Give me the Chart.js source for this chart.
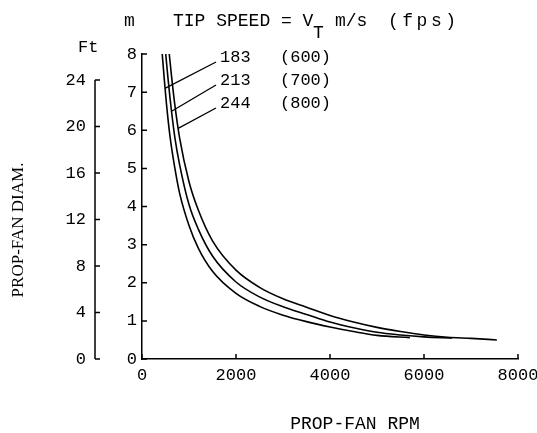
<!DOCTYPE html>
<html>
<head>
<meta charset="utf-8">
<script src="https://cdn.jsdelivr.net/npm/chart.js@4.4.0/dist/chart.umd.min.js"></script>
<style>
html, body { margin: 0; padding: 0; background: #fff; }
canvas { display: block; }
</style>
</head>
<body>
<canvas id="myChart" width="537" height="433"></canvas>
<script>
// tip speed 183 m/s (600 fps)
var rpm183 = [430, 470, 520, 600, 700, 800, 1000, 1200, 1500, 2000, 2500, 3000, 3500, 4000, 4500, 5000, 5700];
var dia183 = [8.0, 7.4, 6.7, 5.8, 5.0, 4.35, 3.5, 2.9, 2.3, 1.72, 1.38, 1.15, 0.98, 0.84, 0.72, 0.62, 0.56];
// tip speed 213 m/s (700 fps)
var rpm213 = [505, 550, 600, 700, 800, 1000, 1200, 1500, 2000, 2500, 3000, 3500, 4000, 4500, 5000, 5500, 6000, 6600];
var dia213 = [8.0, 7.4, 6.8, 5.8, 5.1, 4.05, 3.4, 2.7, 2.02, 1.63, 1.37, 1.17, 0.97, 0.82, 0.7, 0.63, 0.58, 0.55];
// tip speed 244 m/s (800 fps)
var rpm244 = [580, 630, 700, 800, 1000, 1200, 1500, 2000, 2500, 3000, 3500, 4000, 4500, 5000, 5500, 6000, 6500, 7000, 7550];
var dia244 = [8.0, 7.4, 6.65, 5.8, 4.65, 3.9, 3.1, 2.33, 1.88, 1.58, 1.36, 1.14, 0.97, 0.83, 0.72, 0.63, 0.57, 0.54, 0.5];

var xTicks = [0, 2000, 4000, 6000, 8000];
var mTicks = [0, 1, 2, 3, 4, 5, 6, 7, 8];
var ftTicks = [0, 4, 8, 12, 16, 20, 24];
var FT_PER_M = 3.28084;

var speedLabels = ['183', '213', '244'];
var fpsLabels = ['(600)', '(700)', '(800)'];
// where each leader line touches its curve (rpm, m)
var leaderRpm = [489, 630, 770];
var leaderDia = [7.1, 6.5, 6.05];

var mono = "'Liberation Mono', 'DejaVu Sans Mono', monospace";
var serif = "'Liberation Serif', 'DejaVu Serif', serif";

function toPoints(xs, ys) {
    return xs.map(function (x, i) { return { x: x, y: ys[i] }; });
}

function lineSet(xs, ys) {
    return {
        data: toPoints(xs, ys),
        borderColor: '#000',
        borderWidth: 1.6,
        pointRadius: 0,
        fill: false,
        cubicInterpolationMode: 'monotone'
    };
}

var extras = {
    id: 'extras',
    afterDraw: function (chart) {
        var ctx = chart.ctx;
        var sx = chart.scales.x, sy = chart.scales.y, sf = chart.scales.yft;
        ctx.save();
        ctx.strokeStyle = '#000';
        ctx.fillStyle = '#000';
        ctx.lineWidth = 1.5;

        // ft axis line, only from 0 to 24
        ctx.beginPath();
        ctx.moveTo(sf.right, sf.getPixelForValue(0));
        ctx.lineTo(sf.right, sf.getPixelForValue(ftTicks[ftTicks.length - 1]));
        ctx.stroke();

        // inward tick marks
        ctx.beginPath();
        ftTicks.forEach(function (v) {
            var p = sf.getPixelForValue(v);
            ctx.moveTo(sf.right, p); ctx.lineTo(sf.right + 5, p);
        });
        mTicks.forEach(function (v) {
            var p = sy.getPixelForValue(v);
            ctx.moveTo(sy.right, p); ctx.lineTo(sy.right + 5, p);
        });
        xTicks.forEach(function (v) {
            var p = sx.getPixelForValue(v);
            ctx.moveTo(p, sx.top); ctx.lineTo(p, sx.top - 5);
        });
        ctx.stroke();

        // curve labels and leader lines
        ctx.lineWidth = 1.3;
        ctx.font = '17px ' + mono;
        ctx.textBaseline = 'middle';
        ctx.textAlign = 'left';
        var rows = [57, 80, 103];
        for (var i = 0; i < speedLabels.length; i++) {
            ctx.fillText(speedLabels[i], 220, rows[i]);
            ctx.fillText(fpsLabels[i], 280, rows[i]);
            ctx.beginPath();
            ctx.moveTo(216, rows[i] + 5);
            ctx.lineTo(sx.getPixelForValue(leaderRpm[i]), sy.getPixelForValue(leaderDia[i]));
            ctx.stroke();
        }

        // header
        ctx.textBaseline = 'alphabetic';
        ctx.font = '18px ' + mono;
        ctx.fillText('m', 124, 26);
        ctx.fillText('TIP SPEED = V', 173, 26);
        ctx.fillText('T', 313, 38);
        ctx.fillText('m/s', 335, 26);
        ctx.letterSpacing = '3.5px';
        ctx.fillText('(fps)', 388, 26);
        ctx.letterSpacing = '0px';
        ctx.font = '17px ' + mono;
        ctx.fillText('Ft', 78, 52);

        // axis titles
        ctx.font = '18px ' + mono;
        ctx.textAlign = 'center';
        ctx.textBaseline = 'middle';
        ctx.fillText('PROP-FAN RPM', 355, 424);

        ctx.font = '17px ' + serif;
        ctx.translate(19, 230);
        ctx.rotate(-Math.PI / 2);
        ctx.fillText('PROP-FAN DIAM.', 0, 0);
        ctx.restore();
    }
};

var area = document.getElementById("myChart").getContext("2d");
var urChart = new Chart(area, {
    type: 'line',
    data: {
        datasets: [lineSet(rpm183, dia183), lineSet(rpm213, dia213), lineSet(rpm244, dia244)]
    },
    options: {
        responsive: false,
        animation: false,
        events: [],
        layout: {
            padding: { top: 54, right: 19, bottom: 0, left: 0 }
        },
        scales: {
            x: {
                type: 'linear',
                min: 0,
                max: 8000,
                afterBuildTicks: function (scale) {
                    scale.ticks = xTicks.map(function (v) { return { value: v }; });
                },
                afterFit: function (scale) {
                    scale.height = 74;
                    scale.paddingLeft = 0;
                    scale.paddingRight = 0;
                },
                ticks: {
                    color: '#000',
                    padding: 6,
                    maxRotation: 0,
                    font: { family: mono, size: 17 },
                    callback: function (v) { return String(v); }
                },
                grid: { display: false, drawTicks: false },
                border: { display: true, color: '#000', width: 1.5 }
            },
            y: {
                type: 'linear',
                position: 'left',
                weight: 0,
                min: 0,
                max: 8,
                afterBuildTicks: function (scale) {
                    scale.ticks = mTicks.map(function (v) { return { value: v }; });
                },
                afterFit: function (scale) {
                    scale.width = 47;
                    scale.paddingTop = 0;
                    scale.paddingBottom = 0;
                },
                ticks: {
                    color: '#000',
                    padding: 5,
                    font: { family: mono, size: 17 }
                },
                grid: { display: false, drawTicks: false },
                border: { display: true, color: '#000', width: 1.5 }
            },
            yft: {
                type: 'linear',
                position: 'left',
                weight: 1,
                min: 0,
                max: 8 * FT_PER_M,
                afterBuildTicks: function (scale) {
                    scale.ticks = ftTicks.map(function (v) { return { value: v }; });
                },
                afterFit: function (scale) {
                    scale.width = 95;
                    scale.paddingTop = 0;
                    scale.paddingBottom = 0;
                },
                ticks: {
                    color: '#000',
                    padding: 9,
                    font: { family: mono, size: 17 }
                },
                grid: { display: false, drawTicks: false },
                border: { display: false }
            }
        },
        plugins: {
            legend: { display: false },
            tooltip: { enabled: false }
        }
    },
    plugins: [extras]
});
</script>
</body>
</html>
